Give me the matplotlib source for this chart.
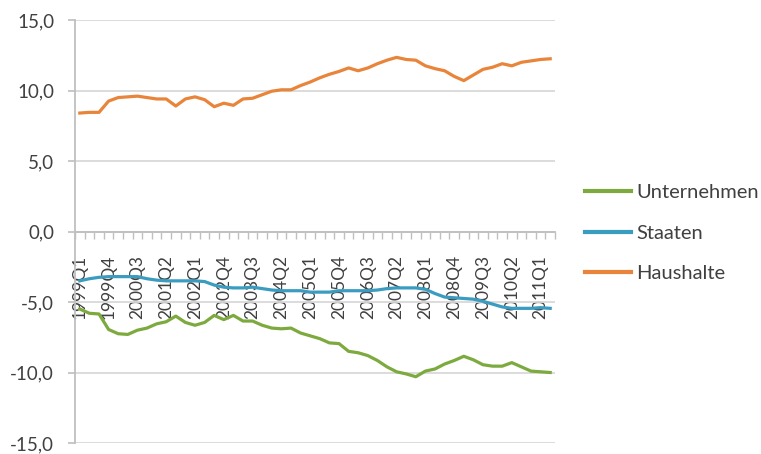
import matplotlib
matplotlib.use("Agg")
import matplotlib.pyplot as plt
from matplotlib.ticker import FixedLocator, FuncFormatter

years = list(range(1999, 2012))
quarters = [f"{y}Q{q}" for y in years for q in range(1, 5)][:50]

unternehmen = [-5.5, -5.8, -5.85, -6.95, -7.25, -7.3, -7.0, -6.85, -6.55, -6.4,
               -6.0, -6.45, -6.65, -6.45, -5.95, -6.25, -5.95, -6.35, -6.35, -6.65,
               -6.85, -6.9, -6.85, -7.2, -7.4, -7.6, -7.9, -7.95, -8.5, -8.6,
               -8.8, -9.15, -9.6, -9.95, -10.1, -10.3, -9.9, -9.75, -9.4, -9.15,
               -8.85, -9.1, -9.45, -9.55, -9.55, -9.3, -9.6, -9.9, -9.95, -10.0]
staaten = [-3.5, -3.35, -3.25, -3.2, -3.2, -3.2, -3.2, -3.35, -3.45, -3.5,
           -3.5, -3.5, -3.5, -3.55, -3.8, -3.95, -4.0, -4.0, -3.95, -4.05,
           -4.15, -4.2, -4.2, -4.2, -4.3, -4.3, -4.3, -4.2, -4.2, -4.2,
           -4.2, -4.15, -4.05, -4.0, -4.0, -4.0, -4.1, -4.4, -4.65, -4.7,
           -4.75, -4.8, -4.95, -5.15, -5.35, -5.45, -5.45, -5.45, -5.4, -5.45]
haushalte = [8.4, 8.45, 8.45, 9.25, 9.5, 9.55, 9.6, 9.5, 9.4, 9.4,
             8.9, 9.4, 9.55, 9.35, 8.85, 9.1, 8.95, 9.4, 9.45, 9.7,
             9.95, 10.05, 10.05, 10.35, 10.6, 10.9, 11.15, 11.35, 11.6, 11.4,
             11.6, 11.9, 12.15, 12.35, 12.2, 12.15, 11.75, 11.55, 11.4, 11.0,
             10.7, 11.1, 11.5, 11.65, 11.9, 11.75, 12.0, 12.1, 12.2, 12.25]

series_names = ["Unternehmen", "Staaten", "Haushalte"]
colors = ["#7DAA3E", "#3A9CC0", "#E8853A"]
yticks = [-15, -10, -5, 0, 5, 10, 15]

plt.rcParams['font.family'] = ['Lato', 'DejaVu Sans']
text_color = "#404040"
grid_color = "#D9D9D9"
axis_color = "#BFBFBF"

W, H = 761, 454
fig = plt.figure(figsize=(W / 100, H / 100), dpi=100)
ax = fig.add_axes([75 / W, (H - 443) / H, 480 / W, 423 / H])

x = list(range(len(quarters)))
for vals, name, c in zip([unternehmen, staaten, haushalte], series_names, colors):
    ax.plot(x, vals, color=c, lw=2.3, label=name, solid_joinstyle='round')

ax.set_xlim(-0.5, len(quarters) - 0.5)
ax.set_ylim(-15, 15)
ax.set_yticks(yticks)
ax.yaxis.set_major_formatter(FuncFormatter(lambda v, p: f"{v:.1f}".replace('.', ',')))
ax.yaxis.grid(True, color=grid_color, lw=1.3)
ax.set_axisbelow('line')

for s in ['top', 'right']:
    ax.spines[s].set_visible(False)
ax.spines['left'].set_color(axis_color)
ax.spines['left'].set_linewidth(1.3)
ax.spines['bottom'].set_position(('data', 0))
ax.spines['bottom'].set_color(axis_color)
ax.spines['bottom'].set_linewidth(1.3)

ax.tick_params(axis='y', length=5, width=1.2, color=axis_color, pad=10,
               labelsize=13.5, labelcolor=text_color)
lab_idx = list(range(0, len(quarters), 3))
ax.xaxis.set_major_locator(FixedLocator(lab_idx))
ax.set_xticklabels([quarters[i] for i in lab_idx], rotation=90, va='top', ha='center')
ax.xaxis.set_minor_locator(FixedLocator([i - 0.5 for i in range(len(quarters) + 1)]))
ax.tick_params(axis='x', which='major', length=0, pad=17, labelsize=12.5, labelcolor=text_color)
ax.tick_params(axis='x', which='minor', length=5, width=1.0, color=axis_color)

leg = fig.legend(loc='upper left', bbox_to_anchor=(585 / W, 1 - 184 / H), frameon=False,
                 handlelength=2.3, handletextpad=0.25, labelspacing=1.17,
                 prop={'size': 14.5}, borderaxespad=0, borderpad=0)
for t in leg.get_texts():
    t.set_color(text_color)
for l in leg.get_lines():
    l.set_linewidth(3)

fig.savefig("out.png", dpi=100)
